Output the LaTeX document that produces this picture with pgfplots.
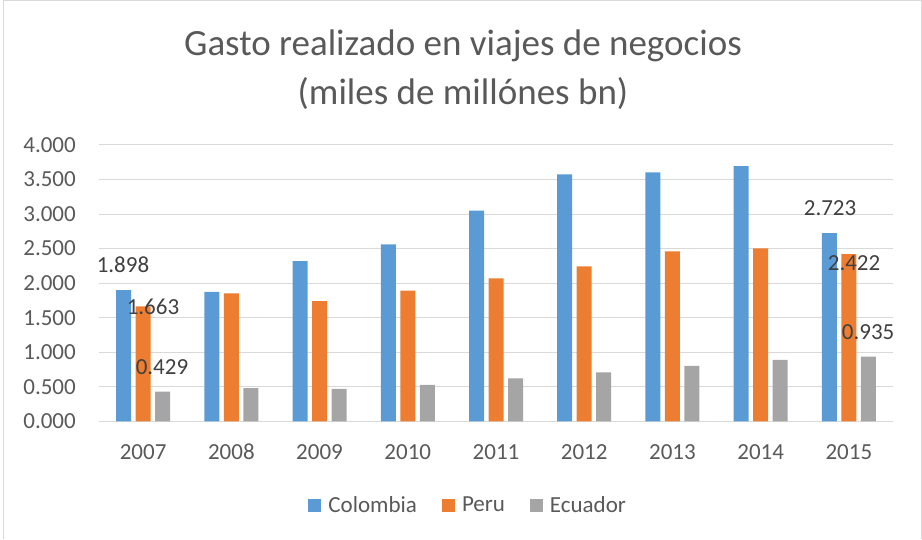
\documentclass[border=0pt]{standalone}
\usepackage{pgfplots}
\pgfplotsset{compat=1.18}
\usepackage{fontspec}
\setmainfont{Carlito}
\definecolor{cBlue}{HTML}{5B9BD5}
\definecolor{cOrange}{HTML}{ED7D31}
\definecolor{cGray}{HTML}{A5A5A5}
\definecolor{gridgray}{HTML}{D9D9D9}
\definecolor{txtgray}{HTML}{595959}
\definecolor{lblgray}{HTML}{404040}
\begin{document}
\begin{tikzpicture}[x=1pt,y=1pt]
\path[use as bounding box] (0,0) rectangle (922,539);
\draw[gridgray, line width=1pt] (3.5,0) -- (3.5,538.5) -- (921.5,538.5) -- (921.5,0);
\node[font=\fontsize{37}{44}\selectfont, text=txtgray] at (463,493) {Gasto realizado en viajes de negocios};
\node[font=\fontsize{37}{44}\selectfont, text=txtgray] at (463,445) {(miles de millónes bn)};
\begin{axis}[
  at={(99pt,117.7pt)}, anchor=south west,
  scale only axis, width=794pt, height=276.3pt,
  xmin=-0.5, xmax=8.5, ymin=0, ymax=4,
  xtick={0,1,2,3,4,5,6,7,8},
  xticklabels={2007,2008,2009,2010,2011,2012,2013,2014,2015},
  ytick={0,0.5,1,1.5,2,2.5,3,3.5,4},
  ybar=4.5pt, bar width=15pt,
  axis y line*=left, axis x line*=bottom,
  y axis line style={draw=none},
  x axis line style={gridgray, line width=1pt},
  ymajorgrids, grid style={gridgray, line width=1pt},
  major tick length=0pt,
  tick label style={font=\fontsize{23}{27}\selectfont, text=txtgray},
  yticklabel style={inner sep=0pt, xshift=-23pt, /pgf/number format/.cd, fixed, fixed zerofill, precision=3, assume math mode=true},
  xticklabel style={inner sep=0pt, anchor=north, text height=15pt, text depth=0pt, yshift=-23pt},
  legend style={at={(0.465,-0.303)}, anchor=center, draw=none, fill=none,
    legend columns=-1, font=\fontsize{23}{27}\selectfont, text=txtgray,
    /tikz/every even column/.append style={column sep=23pt},
    /tikz/every odd column/.append style={column sep=5pt}},
  legend image code/.code={\fill[#1] (0pt,-6.5pt) rectangle (13pt,6.5pt);},
  clip=false,
]
\addplot[fill=cBlue, draw=none] coordinates {(0,1.898) (1,1.872) (2,2.320) (3,2.561) (4,3.049) (5,3.575) (6,3.604) (7,3.695) (8,2.723)};
\addplot[fill=cOrange, draw=none] coordinates {(0,1.663) (1,1.852) (2,1.741) (3,1.891) (4,2.070) (5,2.243) (6,2.460) (7,2.504) (8,2.422)};
\addplot[fill=cGray, draw=none] coordinates {(0,0.429) (1,0.482) (2,0.468) (3,0.526) (4,0.622) (5,0.709) (6,0.801) (7,0.888) (8,0.935)};
\legend{Colombia, Peru, Ecuador}
\node[font=\fontsize{23}{27}\selectfont, text=lblgray] at (axis cs:-0.228,2.265) {1.898};
\node[font=\fontsize{23}{27}\selectfont, text=lblgray] at (axis cs:0.112,1.657) {1.663};
\node[font=\fontsize{23}{27}\selectfont, text=lblgray] at (axis cs:0.214,0.787) {0.429};
\node[font=\fontsize{23}{27}\selectfont, text=lblgray] at (axis cs:7.787,3.091) {2.723};
\node[font=\fontsize{23}{27}\selectfont, text=lblgray] at (axis cs:8.059,2.294) {2.422};
\node[font=\fontsize{23}{27}\selectfont, text=lblgray] at (axis cs:8.218,1.294) {0.935};
\end{axis}
\end{tikzpicture}
\end{document}
